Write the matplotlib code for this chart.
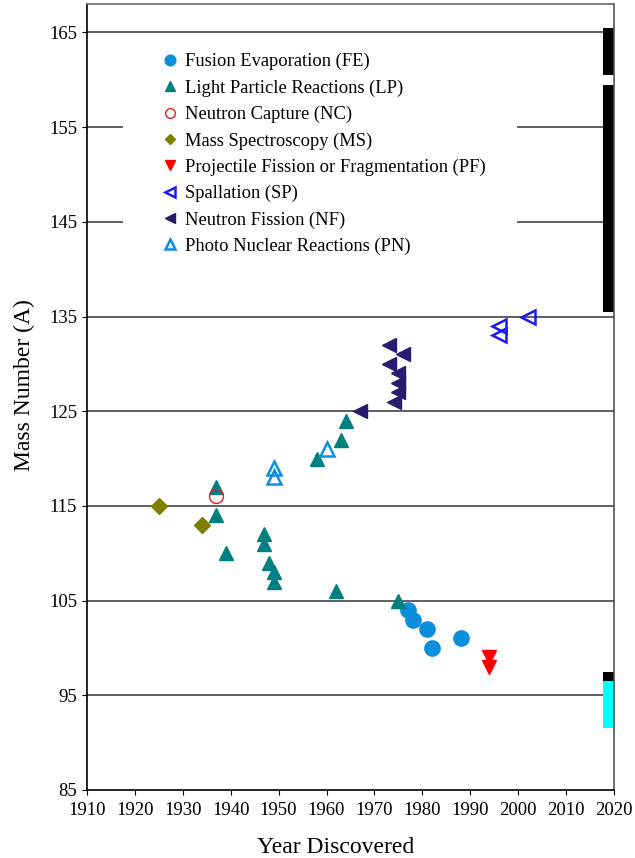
import matplotlib.pyplot as plt
from matplotlib.patches import Rectangle

plt.rcParams['font.family'] = ['Liberation Serif', 'DejaVu Serif']

# year discovered / mass number for each production method
fe_year = [1977, 1978, 1981, 1982, 1988]
fe_mass = [104, 103, 102, 100, 101]

lp_year = [1937, 1937, 1939, 1947, 1947, 1948, 1949, 1949, 1958, 1962, 1963, 1964, 1975]
lp_mass = [117, 114, 110, 112, 111, 109, 108, 107, 120, 106, 122, 124, 105]

nc_year = [1937]
nc_mass = [116]

ms_year = [1925, 1934]
ms_mass = [115, 113]

pf_year = [1994, 1994]
pf_mass = [99, 98]

sp_year = [1996, 1996, 2002]
sp_mass = [134, 133, 135]

nf_year = [1967, 1973, 1976, 1973, 1975, 1975, 1975, 1974]
nf_mass = [125, 132, 131, 130, 129, 128, 127, 126]

pn_year = [1949, 1949, 1960]
pn_mass = [119, 118, 121]

# bars on the right edge (mass ranges)
bar_lo = [160.5, 135.5, 96.5, 91.5]
bar_hi = [165.5, 159.5, 97.5, 96.5]
bar_col = ['black', 'black', 'black', 'cyan']

fig = plt.figure(figsize=(6.35, 8.58), dpi=100)
ax = fig.add_axes([0.137, 0.0793, 0.830, 0.916])

for yv in range(95, 170, 10):
    ax.axhline(yv, color='#444444', lw=1.2, zorder=1)

ax.bar([2018.85] * len(bar_lo), [h - l for l, h in zip(bar_lo, bar_hi)],
       bottom=bar_lo, width=2.3, color=bar_col, zorder=2)

ax.plot(fe_year, fe_mass, 'o', ls='none', color='#0b8fdc', ms=11, label='Fusion Evaporation (FE)', zorder=3)
ax.plot(lp_year, lp_mass, '^', ls='none', color='#008080', ms=10, label='Light Particle Reactions (LP)', zorder=3)
ax.plot(nc_year, nc_mass, 'o', ls='none', mfc='none', mec='#e02020', mew=1.0, ms=10, label='Neutron Capture (NC)', zorder=4)
ax.plot(ms_year, ms_mass, 'D', ls='none', color='#808000', ms=8, label='Mass Spectroscopy (MS)', zorder=3)
ax.plot(pf_year, pf_mass, 'v', ls='none', color='#ff0000', ms=10, label='Projectile Fission or Fragmentation (PF)', zorder=3)
ax.plot(sp_year, sp_mass, '<', ls='none', mfc='none', mec='#1a1aee', mew=1.8, ms=10, label='Spallation (SP)', zorder=3)
ax.plot(nf_year, nf_mass, '<', ls='none', color='#2b1b70', ms=10.5, label='Neutron Fission (NF)', zorder=3)
ax.plot(pn_year, pn_mass, '^', ls='none', mfc='none', mec='#0a90e0', mew=1.8, ms=10, label='Photo Nuclear Reactions (PN)', zorder=3)

# white block behind the legend, hides the grid lines there
ax.add_patch(Rectangle((0.0683, 0.677), 0.748, 0.275, transform=ax.transAxes,
                       facecolor='white', edgecolor='none', zorder=4.5))

leg = ax.legend(loc='upper left', bbox_to_anchor=(0.1366, 0.9375), fontsize=13.3,
                markerscale=0.7, handlelength=1.2, handletextpad=0.22,
                labelspacing=0.49, borderpad=0, borderaxespad=0, frameon=False)
leg.set_zorder(5)

ax.set_xlim(1910, 2020)
ax.set_ylim(85, 168)
ax.set_xticks(range(1910, 2021, 10))
ax.set_yticks(range(85, 166, 10))
ax.tick_params(direction='out', length=3.6, labelsize=13.5, color='black')
ax.tick_params(axis='x', pad=5)
ax.spines['top'].set_color('#666666')
ax.spines['right'].set_color('#555555')
for s in ax.spines.values():
    s.set_linewidth(1.2)

ax.set_xlabel('Year Discovered', fontsize=17, labelpad=13)
ax.set_ylabel('Mass Number (A)', fontsize=17, labelpad=10)
ax.xaxis.label.set_x(0.4725)
ax.yaxis.label.set_y(0.515)

fig.savefig('out.png', dpi=100)
